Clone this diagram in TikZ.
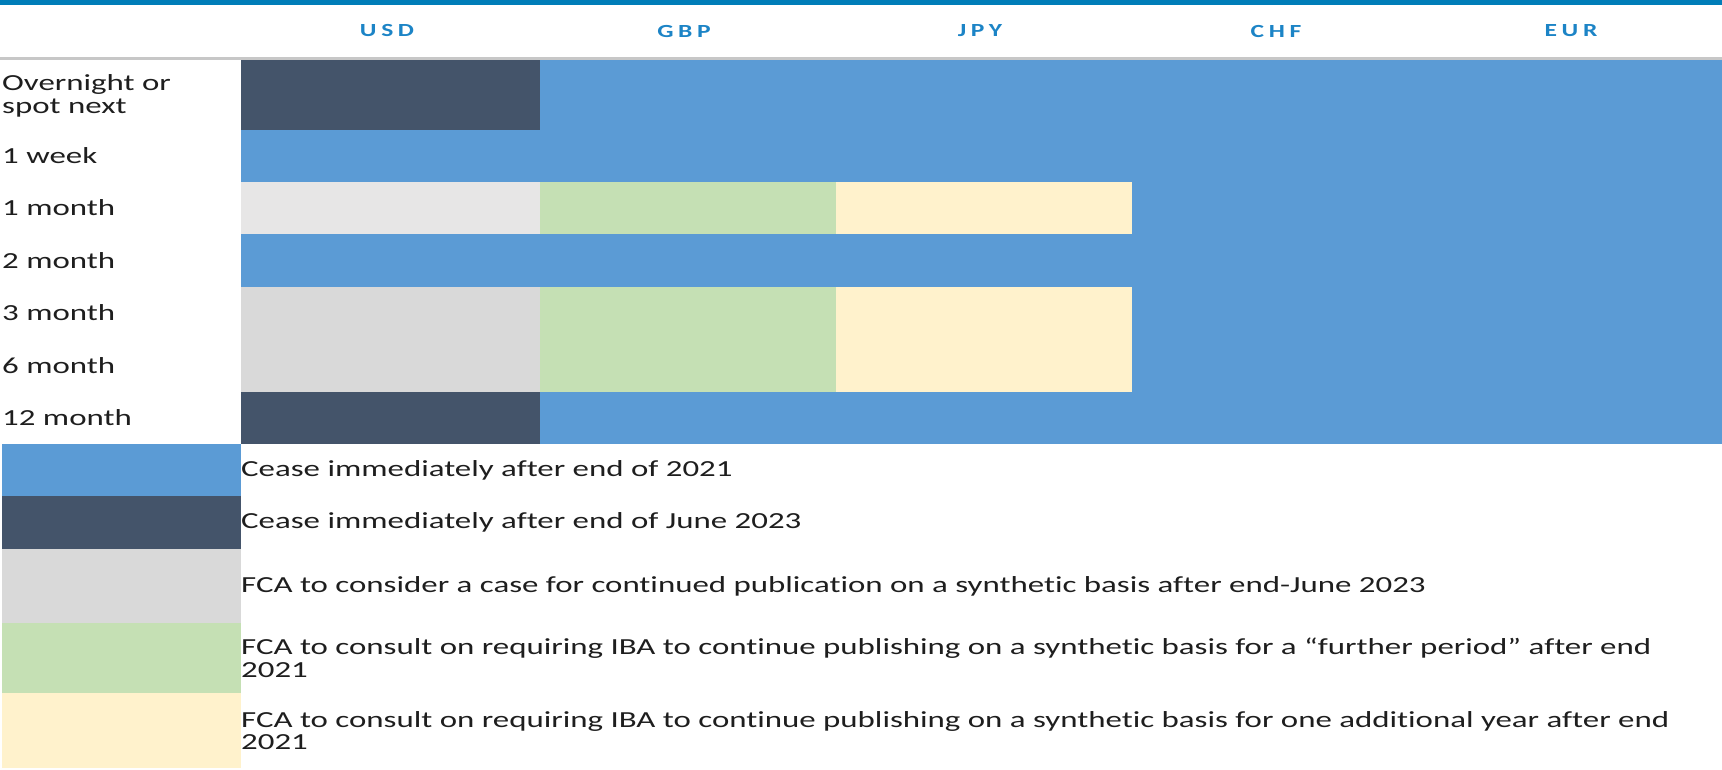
\documentclass[tikz,border=0pt]{standalone}
\usepackage{fontspec}
\setmainfont{Carlito}
\newfontfamily\gridfont[FakeStretch=1.43,Ligatures=NoCommon]{Carlito}
\newfontfamily\headfont[FakeStretch=1.38,LetterSpace=25]{Carlito}
\usepackage{tikz}
\usetikzlibrary{positioning}
\definecolor{ceaseblue}{HTML}{5B9BD5}
\definecolor{ceasedark}{HTML}{44546A}
\definecolor{synthgray}{HTML}{D9D9D9}
\definecolor{paleggray}{HTML}{E7E6E6}
\definecolor{consultgreen}{HTML}{C5E0B4}
\definecolor{consultyellow}{HTML}{FFF2CC}
\definecolor{barblue}{HTML}{007DB8}
\definecolor{headblue}{HTML}{1C84C6}
\definecolor{textdark}{HTML}{1E1E1E}
\tikzset{cell/.style={rectangle,inner sep=0pt,outer sep=0pt,anchor=north west}}
\tikzset{tenor/.style={anchor=west,inner sep=0pt,align=left,text=textdark,
                       font=\gridfont\fontsize{23}{22.5}\selectfont}}
\tikzset{ccy/.style={inner sep=0pt,text=headblue,
                     font=\headfont\bfseries\fontsize{18.5}{20}\selectfont}}

\begin{document}
\begin{tikzpicture}[x=1pt,y=-1pt]
  % units are the pixels of the original chart, y runs downwards
  \useasboundingbox (0,0) rectangle (1722,770);
  \tikzstyle{key}=[cell,minimum width=239pt]
  \tikzstyle{keytext}=[tenor,right=0pt of #1]

  % Top rule and header row
  \fill[barblue] (0,0) rectangle (1722,5);
  \fill[black!22] (0,57) rectangle (1722,60);
  \node (usd) [ccy] at (387,31) {USD};
  \node (gbp) [ccy] at (684,31) {GBP};
  \node (jpy) [ccy] at (980,31) {JPY};
  \node (chf) [ccy] at (1276,31) {CHF};
  \node (eur) [ccy] at (1571,31) {EUR};

  % Grid: blue everywhere, the other cells are laid on top
  \node (grid) [cell,fill=ceaseblue,minimum width=1481pt,minimum height=384pt] at (241,60) {};
  \node (usd_on)  [cell,fill=ceasedark,minimum width=299pt,minimum height=70pt] at (241,60) {};
  \node (usd_1m)  [cell,fill=paleggray,minimum width=299pt,minimum height=52pt] at (241,182) {};
  \node (gbp_1m)  [cell,fill=consultgreen,minimum width=296pt,minimum height=52pt] at (540,182) {};
  \node (jpy_1m)  [cell,fill=consultyellow,minimum width=296pt,minimum height=52pt] at (836,182) {};
  \node (usd_36m) [cell,fill=synthgray,minimum width=299pt,minimum height=105pt] at (241,287) {};
  \node (gbp_36m) [cell,fill=consultgreen,minimum width=296pt,minimum height=105pt] at (540,287) {};
  \node (jpy_36m) [cell,fill=consultyellow,minimum width=296pt,minimum height=105pt] at (836,287) {};
  \node (usd_12m) [cell,fill=ceasedark,minimum width=299pt,minimum height=52pt] at (241,392) {};

  % Tenor labels
  \node (t_on)  [tenor] at (2,96)  {Overnight or\\spot next};
  \node (t_1w)  [tenor] at (2,156) {1 week};
  \node (t_1m)  [tenor] at (2,208) {1 month};
  \node (t_2m)  [tenor] at (2,261) {2 month};
  \node (t_3m)  [tenor] at (2,313) {3 month};
  \node (t_6m)  [tenor] at (2,366) {6 month};
  \node (t_12m) [tenor] at (2,418) {12 month};

  % Legend
  \node (key_blue)   [key,fill=ceaseblue,minimum height=52pt] at (2,444) {};
  \node (key_dark)   [key,fill=ceasedark,minimum height=53pt] at (2,496) {};
  \node (key_gray)   [key,fill=synthgray,minimum height=74pt] at (2,549) {};
  \node (key_green)  [key,fill=consultgreen,minimum height=70pt] at (2,623) {};
  \node (key_yellow) [key,fill=consultyellow,minimum height=75pt] at (2,693) {};
  \node (l_blue)   [keytext=key_blue]   {Cease immediately after end of 2021};
  \node (l_dark)   [keytext=key_dark]   {Cease immediately after end of June 2023};
  \node (l_gray)   [keytext=key_gray]   {FCA to consider a case for continued publication on a synthetic basis after end-June 2023};
  \node (l_green)  [keytext=key_green]  {FCA to consult on requiring IBA to continue publishing on a synthetic basis for a “further period” after end\\2021};
  \node (l_yellow) [keytext=key_yellow] {FCA to consult on requiring IBA to continue publishing on a synthetic basis for one additional year after end\\2021};
\end{tikzpicture}
\end{document}
